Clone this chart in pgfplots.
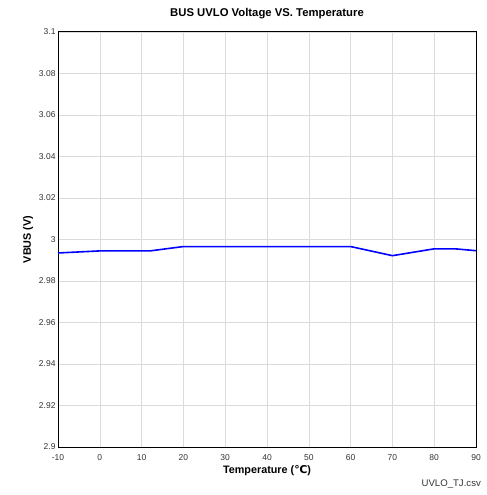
\documentclass[border=0pt]{standalone}
\usepackage{fontspec}
\setmainfont{Liberation Sans}
\newfontfamily\dejavu{DejaVu Sans}
\usepackage{pgfplots}
\pgfplotsset{compat=1.18}
\begin{document}
\begin{tikzpicture}[x=1bp,y=1bp]
\useasboundingbox (0,0) rectangle (487,495);
\begin{axis}[
  at={(58bp,48bp)}, anchor=south west,
  scale only axis, width=418bp, height=415bp,
  xmin=-10, xmax=90, ymin=2.9, ymax=3.1,
  xtick={-10,0,...,90}, ytick={2.9,2.92,...,3.1},
  grid=major, major grid style={color=black!14, line width=0.6pt},
  axis line style={line width=1pt},
  tick style={draw=none},
  ticklabel style={font=\fontsize{8.5bp}{10bp}\selectfont, color=black!80},
  xticklabel style={yshift=-4bp},
  yticklabel style={xshift=1bp},
  /pgf/number format/assume math mode=true,
  yticklabel style={/pgf/number format/fixed, /pgf/number format/precision=2},
  title={\bfseries BUS UVLO Voltage VS. Temperature},
  title style={font=\fontsize{11.3bp}{13bp}\selectfont, at={(0.5,1)}, yshift=4bp},
  xlabel={\bfseries Temperature ({\dejavu ℃})},
  ylabel={\bfseries VBUS (V)},
  label style={font=\fontsize{10.8bp}{12bp}\selectfont},
  xlabel style={yshift=2bp},
  ylabel style={yshift=-1bp},
  clip=false,
]
\addplot[color=blue, line width=1.6pt] coordinates {
(-10,2.9935) (0,2.9945) (12,2.9945) (20,2.9966) (30,2.9966) (40,2.9966) (50,2.9966) (60,2.9966) (70,2.9922) (80,2.9955) (85,2.9955) (90,2.9946)
};
\node[anchor=north east, font=\fontsize{9.6bp}{11bp}\selectfont, color=black!80] at (rel axis cs:1.02,0) [yshift=-29bp] {UVLO\_TJ.csv};
\end{axis}
\end{tikzpicture}
\end{document}
